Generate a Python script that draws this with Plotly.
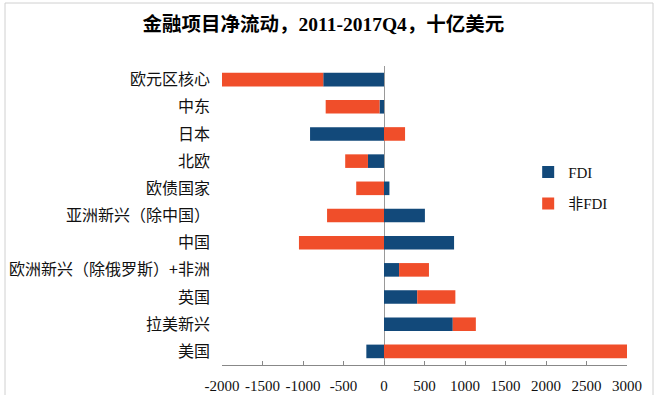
import plotly.graph_objects as go

categories = ["欧元区核心", "中东", "日本", "北欧", "欧债国家", "亚洲新兴（除中国）", "中国",
              "欧洲新兴（除俄罗斯）+非洲", "英国", "拉美新兴", "美国"]
fdi = [-750, -55, -913, -198, 67, 505, 865, 186, 410, 849, -218]
non_fdi = [-1255, -665, 260, -281, -343, -703, -1050, 369, 471, 285, 3000]
x_ticks = [-2000, -1500, -1000, -500, 0, 500, 1000, 1500, 2000, 2500, 3000]
x_tick_labels = ["-2000", "-1500", "-1000", "-500", "0", "500", "1000", "1500", "2000", "2500", "3000"]

FDI_COLOR = "#12497A"
NON_COLOR = "#F04E2A"
SERIF = "Liberation Serif, Noto Sans CJK SC"
SANS = "Noto Sans CJK SC, Noto Sans"

fig = go.Figure()
fig.add_trace(go.Bar(y=categories, x=fdi, orientation="h", name="FDI",
                     marker=dict(color=FDI_COLOR, line=dict(width=0)), legendgroup="a"))
fig.add_trace(go.Bar(y=categories, x=non_fdi, orientation="h", name="非FDI",
                     marker=dict(color=NON_COLOR, line=dict(width=0)), legendgroup="b"))

fig.update_layout(
    template="none",
    width=660, height=395,
    margin=dict(l=222, r=33, t=66, b=30),
    paper_bgcolor="white", plot_bgcolor="white",
    barmode="relative", bargap=0.5,
    title=dict(text="<b>金融项目净流动，2011-2017Q4，十亿美元</b>", x=0.49, xanchor="center",
               y=0.94, yanchor="middle", font=dict(family=SERIF, size=19.5, color="#000")),
    xaxis=dict(range=[-2000, 3000], tickvals=x_ticks, ticktext=x_tick_labels,
               ticks="inside", ticklen=4, tickwidth=1, ticklabelstandoff=7, automargin=False,
               tickcolor="#888", showline=True, linecolor="#888", linewidth=1,
               layer="above traces", mirror=False,
               showgrid=False, zeroline=True, zerolinecolor="#999", zerolinewidth=1,
               tickfont=dict(family=SERIF, size=15, color="#111")),
    yaxis=dict(type="category", categoryarray=categories, range=[10.5, -0.5],
               showline=False, ticks="", showgrid=False, zeroline=False,
               ticklabelstandoff=11, automargin=False,
               tickfont=dict(family=SANS, size=16, color="#111")),
    legend=dict(x=0.756, y=0.70, xanchor="left", yanchor="top",
                font=dict(family=SERIF, size=15, color="#111"),
                tracegroupgap=9, bgcolor="rgba(0,0,0,0)"),
    shapes=[dict(type="rect", xref="paper", yref="paper",
                 x0=-217 / 405, x1=431 / 405, y0=-40 / 299, y1=(299 + 63) / 299,
                 line=dict(color="#d0d0d0", width=1), fillcolor="rgba(0,0,0,0)", layer="below")],
)

fig.write_html("out.html", config={"displayModeBar": False},
               post_script="document.body.style.margin='0px';")
